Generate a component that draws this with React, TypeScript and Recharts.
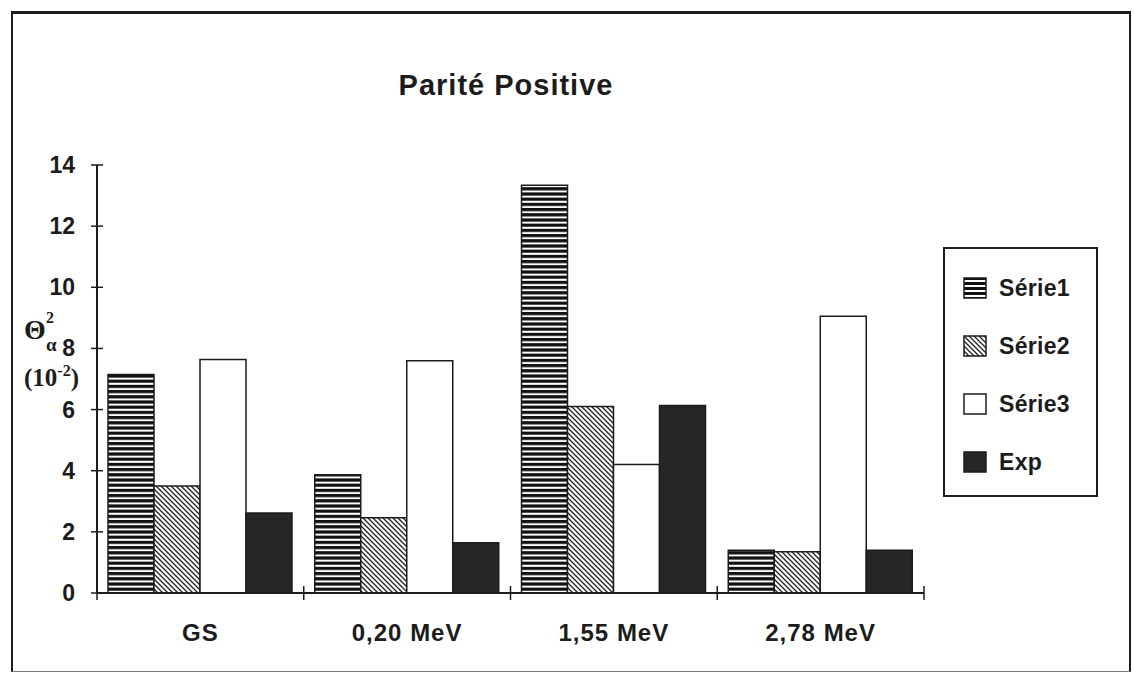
import React from "react";
import { Bar, BarChart, Legend, XAxis, YAxis } from "recharts";

const categories = ["GS", "0,20 MeV", "1,55 MeV", "2,78 MeV"];
const serie1 = [7.15, 3.87, 13.34, 1.4];
const serie2 = [3.5, 2.46, 6.1, 1.35];
const serie3 = [7.64, 7.6, 4.2, 9.05];
const exp = [2.62, 1.64, 6.13, 1.4];
const yTicks = [0, 2, 4, 6, 8, 10, 12, 14];

const data = categories.map((cat, i) => ({
  cat,
  s1: serie1[i],
  s2: serie2[i],
  s3: serie3[i],
  exp: exp[i],
}));

const SANS = "'Liberation Sans', Arial, sans-serif";
const SERIF = "'Liberation Serif', 'DejaVu Serif', serif";
const INK = "#1c1c1c";

// plot box: x 97..924, y 165..593
const BAND = (924 - 97) / categories.length;

function YTick(props: any) {
  const { x, y, payload } = props;
  const ax = x + 22;
  return (
    <g>
      <line x1={ax - 6} x2={ax + 6} y1={y} y2={y} stroke={INK} strokeWidth={1.5} />
      <text x={x} y={y} dy={8} textAnchor="end" fontFamily={SANS} fontWeight="bold" fontSize={23} fill={INK}>
        {payload.value}
      </text>
    </g>
  );
}

function XTick(props: any) {
  const { x, y, payload, index } = props;
  const ay = y - 48;
  const left = x - BAND / 2;
  const right = x + BAND / 2;
  return (
    <g>
      <line x1={left} x2={left} y1={ay - 7} y2={ay + 7} stroke={INK} strokeWidth={1.5} />
      {index === categories.length - 1 && (
        <line x1={right} x2={right} y1={ay - 7} y2={ay + 7} stroke={INK} strokeWidth={1.5} />
      )}
      <text x={x} y={y} textAnchor="middle" fontFamily={SANS} fontWeight="bold" fontSize={24} letterSpacing={1} fill={INK}>
        {payload.value}
      </text>
    </g>
  );
}

function Swatch({ kind }: { kind: string }) {
  return (
    <svg width={24} height={22} style={{ display: "block" }}>
      <defs>
        <pattern id={"lg-h"} width={10} height={5} patternUnits="userSpaceOnUse">
          <rect width={10} height={5} fill="#fff" />
          <rect width={10} height={3} fill="#111" />
        </pattern>
        <pattern id={"lg-d"} width={5} height={5} patternUnits="userSpaceOnUse">
          <rect width={5} height={5} fill="#fff" />
          <path d="M0,0 L5,5 M-1,4 L1,6 M4,-1 L6,1" stroke="#222" strokeWidth={1.3} />
        </pattern>
      </defs>
      <rect
        x={1}
        y={1}
        width={22}
        height={20}
        fill={kind === "s1" ? "url(#lg-h)" : kind === "s2" ? "url(#lg-d)" : kind === "s3" ? "#fff" : "#262626"}
        stroke={INK}
        strokeWidth={1.5}
      />
    </svg>
  );
}

const legendItems = [
  { key: "s1", label: "Série1" },
  { key: "s2", label: "Série2" },
  { key: "s3", label: "Série3" },
  { key: "exp", label: "Exp" },
];

function LegendBox() {
  return (
    <div
      style={{
        width: 155,
        height: 250,
        boxSizing: "border-box",
        border: `2px solid ${INK}`,
        background: "#fff",
        paddingTop: 10,
        paddingLeft: 18,
      }}
    >
      {legendItems.map((it) => (
        <div key={it.key} style={{ display: "flex", alignItems: "center", height: 58 }}>
          <Swatch kind={it.key} />
          <span
            style={{
              marginLeft: 12,
              fontFamily: SANS,
              fontWeight: "bold",
              fontSize: 23,
              color: INK,
              letterSpacing: 0.3,
            }}
          >
            {it.label}
          </span>
        </div>
      ))}
    </div>
  );
}

export default function App() {
  return (
    <div style={{ position: "absolute", left: 0, top: 0, width: 1134, height: 673, background: "#fff" }}>
      <div
        style={{
          position: "absolute",
          left: 11,
          top: 11,
          width: 1120,
          height: 661,
          boxSizing: "border-box",
          borderTop: `3px solid ${INK}`,
          borderLeft: `2px solid ${INK}`,
          borderRight: `2px solid ${INK}`,
          borderBottom: `1px solid #777`,
        }}
      />
      <div style={{ position: "absolute", left: 0, top: 0 }}>
        <BarChart
          width={1134}
          height={673}
          data={data}
          margin={{ top: 165, right: 210, bottom: 20, left: 37 }}
          barGap={0}
        >
          <defs>
            <pattern id="hstripe" width={10} height={5.2} patternUnits="userSpaceOnUse">
              <rect width={10} height={5.2} fill="#fff" />
              <rect width={10} height={3.2} fill="#111" />
            </pattern>
            <pattern id="dhatch" width={5} height={5} patternUnits="userSpaceOnUse">
              <rect width={5} height={5} fill="#fff" />
              <path d="M0,0 L5,5 M-1,4 L1,6 M4,-1 L6,1" stroke="#222" strokeWidth={1.3} />
            </pattern>
          </defs>
          <XAxis
            dataKey="cat"
            height={60}
            interval={0}
            tickLine={false}
            tickSize={6}
            tickMargin={42}
            axisLine={{ stroke: INK, strokeWidth: 2 }}
            tick={<XTick />}
          />
          <YAxis
            width={60}
            domain={[0, 14]}
            ticks={yTicks}
            interval={0}
            tickLine={false}
            tickSize={6}
            tickMargin={16}
            axisLine={{ stroke: INK, strokeWidth: 2 }}
            tick={<YTick />}
          />
          <Legend
            layout="vertical"
            align="center"
            verticalAlign="middle"
            content={() => <LegendBox />}
            wrapperStyle={{ left: 943, top: 247, width: 155, height: 250 }}
          />
          <Bar dataKey="s1" name="Série1" barSize={46} fill="url(#hstripe)" stroke={INK} strokeWidth={1.5} isAnimationActive={false} />
          <Bar dataKey="s2" name="Série2" barSize={46} fill="url(#dhatch)" stroke={INK} strokeWidth={1.5} isAnimationActive={false} />
          <Bar dataKey="s3" name="Série3" barSize={46} fill="#fff" stroke={INK} strokeWidth={1.5} isAnimationActive={false} />
          <Bar dataKey="exp" name="Exp" barSize={46} fill="#262626" stroke={INK} strokeWidth={1.5} isAnimationActive={false} />
        </BarChart>
      </div>
      <svg width={1134} height={673} style={{ position: "absolute", left: 0, top: 0, pointerEvents: "none" }}>
        <text x={506} y={95} textAnchor="middle" fontFamily={SANS} fontWeight="bold" fontSize={29} letterSpacing={1} fill={INK}>
          Parité Positive
        </text>
        <text x={24} y={339} fontFamily={SERIF} fontWeight="bold" fontSize={28} fill={INK}>
          Θ
        </text>
        <text x={46} y={323} fontFamily={SERIF} fontWeight="bold" fontSize={16} fill={INK}>
          2
        </text>
        <text x={46} y={351} fontFamily={SERIF} fontWeight="bold" fontSize={19} fill={INK}>
          α
        </text>
        <text x={24} y={386} fontFamily={SERIF} fontWeight="bold" fontSize={25} fill={INK}>
          (10
          <tspan dy={-10} fontSize={16}>-2</tspan>
          <tspan dy={10}>)</tspan>
        </text>
      </svg>
    </div>
  );
}
